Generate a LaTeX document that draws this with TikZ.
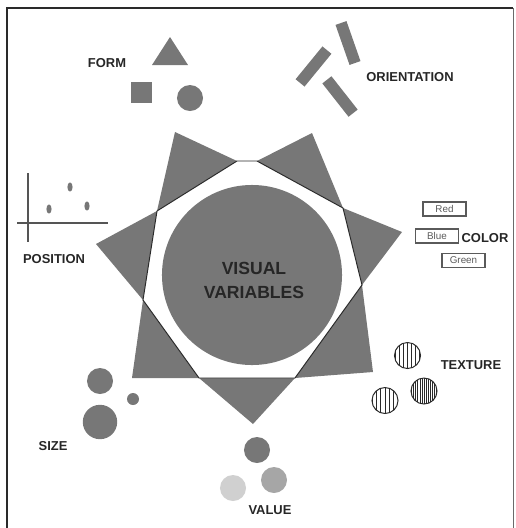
\documentclass[tikz,border=0pt]{standalone}
\usepackage{fontspec}
\setsansfont{Liberation Sans}
\usetikzlibrary{shapes.geometric}
\definecolor{shapeGray}{HTML}{777777}
\definecolor{lineDark}{HTML}{2A2A2A}
\definecolor{textMain}{HTML}{262626}
\definecolor{boxStroke}{HTML}{5A5A5A}
\definecolor{valueDark}{HTML}{777777}
\definecolor{valueMid}{HTML}{A6A6A6}
\definecolor{valueLight}{HTML}{D0D0D0}

\begin{document}
\begin{tikzpicture}[
    x=0.025cm, y=-0.025cm,
    title/.style={font=\sffamily\bfseries\fontsize{9.2}{11}\selectfont,
        text=textMain, inner sep=0pt},
    bigTitle/.style={font=\sffamily\bfseries\fontsize{12.5}{17}\selectfont,
        text=textMain, inner sep=0pt, align=center},
    blob/.style={circle, fill=shapeGray, inner sep=0pt, minimum size=#1},
    blob/.default=0.65cm,
    bar/.style={rectangle, fill=shapeGray, inner sep=0pt,
        minimum width=1.06cm, minimum height=0.29cm, rotate=#1},
    plotDot/.style={ellipse, fill=shapeGray, inner sep=0pt,
        minimum width=0.13cm, minimum height=0.23cm},
    swatch/.style={rectangle, draw=boxStroke, line width=0.8pt,
        minimum width=1.075cm, minimum height=0.35cm, inner sep=0pt,
        font=\sffamily\fontsize{7}{8}\selectfont, text=boxStroke},
    texture/.style={circle, draw=lineDark, line width=0.7pt, fill=white,
        minimum size=0.65cm, inner sep=0pt,
        path picture={
          \foreach \k in {-12,...,12}
            \draw[lineDark, line width=0.45pt]
              ([xshift=\k*#1]path picture bounding box.north) --
              ([xshift=\k*#1]path picture bounding box.south);
        }},
    axis/.style={draw=lineDark!80, line width=1.1pt}
]
\useasboundingbox (0,0) rectangle (515,528);

% frame, open at the bottom
\draw[lineDark, line width=1.4pt] (7,528) -- (7,8) -- (513,8);
\draw[lineDark!70, line width=0.6pt] (513,8) -- (513,528);

% star behind the octagon
\coordinate (o1) at (237,161);
\coordinate (o2) at (257,161);
\coordinate (o3) at (343,208);
\coordinate (o4) at (362,285);
\coordinate (o5) at (295,378);
\coordinate (o6) at (199,378);
\coordinate (o7) at (143,300);
\coordinate (o8) at (157,211);

\fill[shapeGray] (o1) -- (o2) -- (312,133) -- (o3) -- (402,232) -- (o4)
  -- (373,372) -- (o5) -- (253,424) -- (o6) -- (132,378) -- (o7)
  -- (96,244) -- (o8) -- (175,132) -- cycle;
\draw[lineDark, line width=0.7pt, fill=white]
  (o1) -- (o2) -- (o3) -- (o4) -- (o5) -- (o6) -- (o7) -- (o8) -- cycle;

\node[blob=4.5cm] (Core) at (252,275) {};
\node[bigTitle] (CoreTitle) at (254,280) {VISUAL\\VARIABLES};

% form
\fill[shapeGray] (152,65) -- (188,65) -- (170,37) -- cycle;
\node[rectangle, fill=shapeGray, inner sep=0pt, minimum size=0.525cm]
  (FormSquare) at (141.5,92.5) {};
\node[blob] (FormCircle) at (190,98) {};
\node[title] (FormTitle) at (107,63) {FORM};

% orientation
\node[bar=-70.7] (BarA) at (348,43) {};
\node[bar=50.7] (BarB) at (313.5,66.5) {};
\node[bar=-51.8] (BarC) at (340,96.5) {};
\node[title] (OrientTitle) at (410,77) {ORIENTATION};

% position
\coordinate (yTop) at (28,173);
\coordinate (yBot) at (28,242);
\coordinate (xLeft) at (17,223);
\coordinate (xRight) at (108,223);
\draw[axis] (yTop) -- (yBot);
\draw[axis] (xLeft) -- (xRight);
\node[plotDot] (DotA) at (70,187) {};
\node[plotDot] (DotB) at (49,209) {};
\node[plotDot] (DotC) at (87,206) {};
\node[title] (PosTitle) at (54,259) {POSITION};

% color
\node[swatch] (Red) at (444.5,209) {Red};
\node[swatch] (Blue) at (437,236) {Blue};
\node[swatch] (Green) at (463.5,260.5) {Green};
\node[title] (ColorTitle) at (485,238) {COLOR};

% texture
\node[texture=0.1cm] (TexA) at (407.5,355.5) {};
\node[texture=0.052cm] (TexB) at (424,391) {};
\node[texture=0.108cm] (TexC) at (385,400.5) {};
\node[title] (TexTitle) at (471,365) {TEXTURE};

% size
\node[blob] (SizeMid) at (100,381) {};
\node[blob=0.3cm] (SizeSmall) at (133,399) {};
\node[blob=0.86cm] (SizeBig) at (100,422) {};
\node[title] (SizeTitle) at (53,446) {SIZE};

% value
\node[blob, fill=valueDark] (ValDark) at (257,450) {};
\node[blob, fill=valueLight] (ValLight) at (233,488) {};
\node[blob, fill=valueMid] (ValMid) at (274,480) {};
\node[title] (ValTitle) at (270,510) {VALUE};

\end{tikzpicture}
\end{document}
